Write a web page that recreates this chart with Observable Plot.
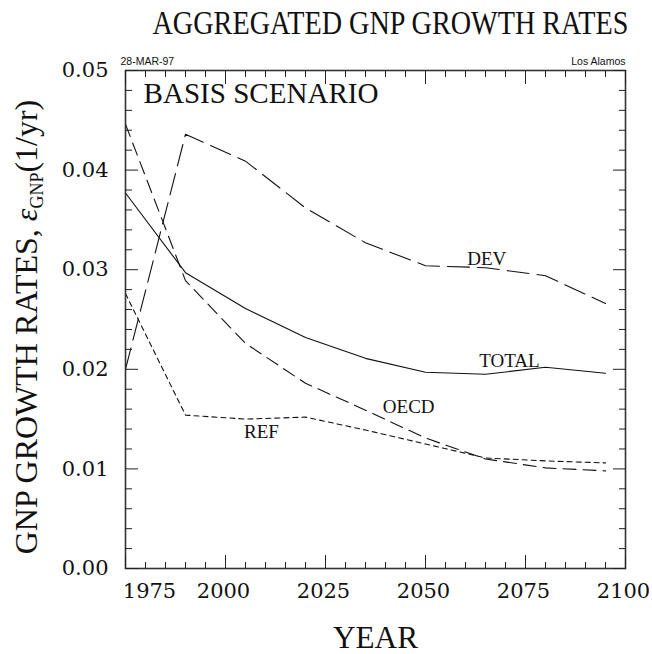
<!DOCTYPE html>
<html><head><meta charset="utf-8">
<script src="https://cdn.jsdelivr.net/npm/d3@7"></script>
<script src="https://cdn.jsdelivr.net/npm/@observablehq/plot@0.6"></script>
<style>body{margin:0;background:#fff}</style>
</head><body><div id="chart"></div>
<script>
// ---- data ----
const years = [1975, 1990, 2005, 2020, 2035, 2050, 2065, 2080, 2095];
const dev   = [0.0200, 0.0436, 0.0409, 0.0362, 0.0327, 0.0304, 0.0302, 0.0294, 0.0266];
const total = [0.0377, 0.0297, 0.0261, 0.0232, 0.0211, 0.0197, 0.0195, 0.0202, 0.0196];
const oecd  = [0.0446, 0.0289, 0.0226, 0.0186, 0.0159, 0.0131, 0.0110, 0.0101, 0.0098];
const ref   = [0.0276, 0.0154, 0.0150, 0.0152, 0.0139, 0.0125, 0.0111, 0.0108, 0.0106];
const seriesNames  = ["DEV", "TOTAL", "OECD", "REF"];
const labelYears   = [2065.3, 2071, 2045.8, 2009];
const labelValues  = [0.0305, 0.0202, 0.0156, 0.0131];
const xMajor = [1975, 2000, 2025, 2050, 2075, 2100];
const xMinor = d3.range(1980, 2100, 5).filter(v => v % 25 !== 0);
const yMajor = [0, 0.01, 0.02, 0.03, 0.04, 0.05];
const yMinor = d3.range(1, 25).map(i => i * 0.002).filter(v => Math.abs(v * 100 - Math.round(v * 100)) > 1e-6);

const seriesData = {DEV: dev, TOTAL: total, OECD: oecd, REF: ref};
const dashes = {DEV: "22,8", TOTAL: null, OECD: "13,7", REF: "5,4"};
const rows = seriesNames.flatMap(s => years.map((yr, i) => ({series: s, year: yr, value: seriesData[s][i]})));
const labels = seriesNames.map((s, i) => ({name: s, year: labelYears[i], value: labelValues[i]}));

const serif = "Liberation Serif";
const tickFont = "DejaVu Serif";
const ink = "#111";

const lineMarks = seriesNames.map(s => Plot.line(rows.filter(r => r.series === s), {
  x: "year", y: "value", stroke: ink, strokeWidth: 1.1,
  strokeDasharray: dashes[s] || undefined
}));

const chart = Plot.plot({
  width: 652, height: 654,
  marginLeft: 125, marginRight: 27, marginTop: 70, marginBottom: 86,
  x: {domain: [1975, 2100]},
  y: {domain: [0, 0.05]},
  style: {fontFamily: serif, background: "#fff", color: ink},
  marks: [
    ...lineMarks,
    Plot.frame({stroke: "#333", strokeWidth: 1.6}),
    // inward ticks on all four sides
    Plot.axisX(xMajor, {anchor: "bottom", tickSize: -13, tickFormat: () => "", label: null, stroke: "#222"}),
    Plot.axisX(xMinor, {anchor: "bottom", tickSize: -6, tickFormat: () => "", label: null, stroke: "#222"}),
    Plot.axisX(xMajor, {anchor: "top", tickSize: -13, tickFormat: () => "", label: null, stroke: "#222"}),
    Plot.axisX(xMinor, {anchor: "top", tickSize: -6, tickFormat: () => "", label: null, stroke: "#222"}),
    Plot.axisY(yMajor, {anchor: "left", tickSize: -13, tickFormat: () => "", label: null, stroke: "#222"}),
    Plot.axisY(yMinor, {anchor: "left", tickSize: -7, tickFormat: () => "", label: null, stroke: "#222"}),
    Plot.axisY(yMajor, {anchor: "right", tickSize: -13, tickFormat: () => "", label: null, stroke: "#222"}),
    Plot.axisY(yMinor, {anchor: "right", tickSize: -7, tickFormat: () => "", label: null, stroke: "#222"}),
    // tick labels
    Plot.text(yMajor, {y: d => d, frameAnchor: "left", dx: -17, textAnchor: "end", text: d => d.toFixed(2),
      fontFamily: tickFont, fontSize: 21, fill: ink}),
    Plot.text(xMajor.slice(0, 1), {x: d => d, frameAnchor: "bottom", dy: 29, dx: 24, text: d => String(d),
      fontFamily: tickFont, fontSize: 21, fill: ink}),
    Plot.text(xMajor.slice(1), {x: d => d, frameAnchor: "bottom", dy: 29, dx: -2, text: d => String(d),
      fontFamily: tickFont, fontSize: 21, fill: ink}),
    // series labels
    Plot.text(labels, {x: "year", y: "value", text: "name", lineAnchor: "bottom", fontSize: 19, fill: ink}),
    // titles & annotations
    Plot.text(["AGGREGATED GNP GROWTH RATES"], {frameAnchor: "top", dx: 15, dy: -37, lineAnchor: "bottom",
      fontSize: 34, fill: ink}),
    Plot.text(["BASIS SCENARIO"], {frameAnchor: "top-left", dx: 18, dy: 32, lineAnchor: "bottom", textAnchor: "start",
      fontSize: 30, fill: ink}),
    Plot.text(["YEAR"], {frameAnchor: "bottom", dy: 79, lineAnchor: "bottom", fontSize: 32, fill: ink}),
    Plot.text(["28-MAR-97"], {frameAnchor: "top-left", dx: -5, dy: -6, lineAnchor: "bottom", textAnchor: "start",
      fontFamily: "Liberation Sans", fontSize: 10.5, fill: ink}),
    Plot.text(["Los Alamos"], {frameAnchor: "top-right", dy: -6, lineAnchor: "bottom", textAnchor: "end",
      fontFamily: "Liberation Sans", fontSize: 10.5, fill: ink})
  ]
});
document.getElementById("chart").append(chart);

const svg = d3.select(chart);
// condense the Hershey-like wide caps to the reference widths
const fit = {"AGGREGATED GNP GROWTH RATES": 476, "BASIS SCENARIO": 235, "YEAR": 85};
svg.selectAll("text").each(function () {
  const w = fit[this.textContent];
  if (w) d3.select(this).attr("textLength", w).attr("lengthAdjust", "spacingAndGlyphs");
});
// rotated y-axis title with subscript
const yl = svg.append("text")
  .attr("transform", "translate(37,327) rotate(-90)")
  .attr("text-anchor", "middle")
  .attr("fill", ink)
  .style("font-family", serif)
  .style("font-size", "32px");
yl.append("tspan").text("GNP GROWTH RATES, ");
yl.append("tspan").style("font-style", "italic").text("ε");
yl.append("tspan").attr("dy", 6).style("font-size", "18px").text("GNP");
yl.append("tspan").attr("dy", -6).text("(1/yr)");
</script>
</body></html>
